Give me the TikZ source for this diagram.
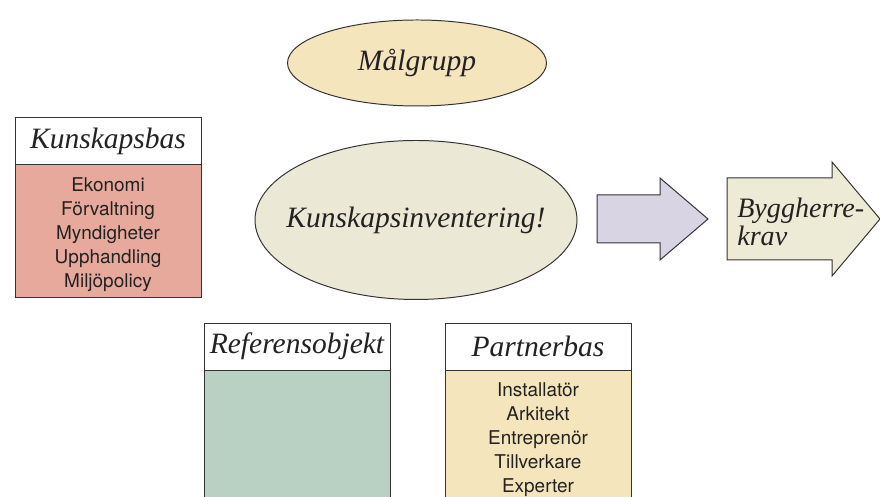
\documentclass[tikz,border=0pt]{standalone}
\usepackage{fontspec}
\setmainfont{Liberation Serif}
\setsansfont{TeX Gyre Heros}
\usetikzlibrary{shapes.geometric, positioning}
\usepackage{xcolor}
\definecolor{kbred}{HTML}{E6A99C}
\definecolor{refgreen}{HTML}{B9D1C3}
\definecolor{partnersand}{HTML}{F5E5BD}
\definecolor{inventcream}{HTML}{EBE9D5}
\definecolor{arrowlilac}{HTML}{D8D4E3}
\definecolor{kravcream}{HTML}{EDEBD6}
\definecolor{linegray}{HTML}{333333}
\definecolor{textdark}{HTML}{222222}

\begin{document}
\begin{tikzpicture}[
  headbox/.style={
    rectangle, draw=linegray, fill=white, line width=0.7pt,
    minimum width=4.65cm, minimum height=1.175cm, inner sep=0pt, outer sep=0pt,
    font=\fontsize{21}{23}\selectfont\itshape, text=textdark
  },
  listbox/.style={
    rectangle, draw=linegray, fill=#1, line width=0.7pt,
    minimum width=4.65cm, minimum height=3.325cm, inner sep=0pt, outer sep=0pt
  },
  listtext/.style={
    inner sep=0pt, yshift=-2.5pt,
    font=\sffamily\fontsize{13.5}{17.07}\selectfont, align=center, text=textdark
  },
  oval/.style={
    ellipse, draw=linegray, fill=#1, line width=0.7pt, inner sep=0pt,
    font=\fontsize{21}{23}\selectfont\itshape, text=textdark
  },
  bigarrow/.style={draw=linegray, fill=#1, line width=0.7pt, line join=miter}
]
  \useasboundingbox (0,0) rectangle (22,12.425);
  \clip (0,0) rectangle (22,12.425);

  \node[oval=partnersand, minimum width=6.475cm, minimum height=2.15cm] (malgrupp) at (10.425,10.85) {\makebox[0pt]{Målgrupp}};
  \node[oval=inventcream, minimum width=8.05cm, minimum height=3.975cm] (invent) at (10.4,6.925) {\makebox[0pt]{Kunskapsinventering!}};

  \node[headbox] (kbas) at (2.7,8.8875) {Kunskapsbas};
  \node[listbox=kbred, below=0pt of kbas] (kbaslist) {};
  \node[listtext] (kbastext) at (kbaslist.center) {Ekonomi\\Förvaltning\\Myndigheter\\Upphandling\\Miljöpolicy};

  \node[headbox] (ref) at (7.425,3.7625) {Referensobjekt};
  \node[listbox=refgreen, below=0pt of ref] (reflist) {};

  \node[headbox] (partner) at (13.45,3.7625) {Partnerbas};
  \node[listbox=partnersand, below=0pt of partner] (partnerlist) {};
  \node[listtext] (partnertext) at (partnerlist.center) {Installatör\\Arkitekt\\Entreprenör\\Tillverkare\\Experter};

  \draw[bigarrow=arrowlilac] (14.925,7.55) -- (16.5,7.55) -- (16.5,7.975) -- (17.7,6.95)
    -- (16.5,5.925) -- (16.5,6.35) -- (14.925,6.35) -- cycle;
  \draw[bigarrow=kravcream] (18.175,7.975) -- (20.8,7.975) -- (20.8,8.375) -- (22,6.95)
    -- (20.8,5.525) -- (20.8,5.925) -- (18.175,5.925) -- cycle;
  \node[anchor=west, align=left, inner sep=0pt, font=\fontsize{20}{20}\selectfont\itshape, text=textdark]
    (krav) at (18.425,6.875) {Byggherre-\\krav};
\end{tikzpicture}
\end{document}
